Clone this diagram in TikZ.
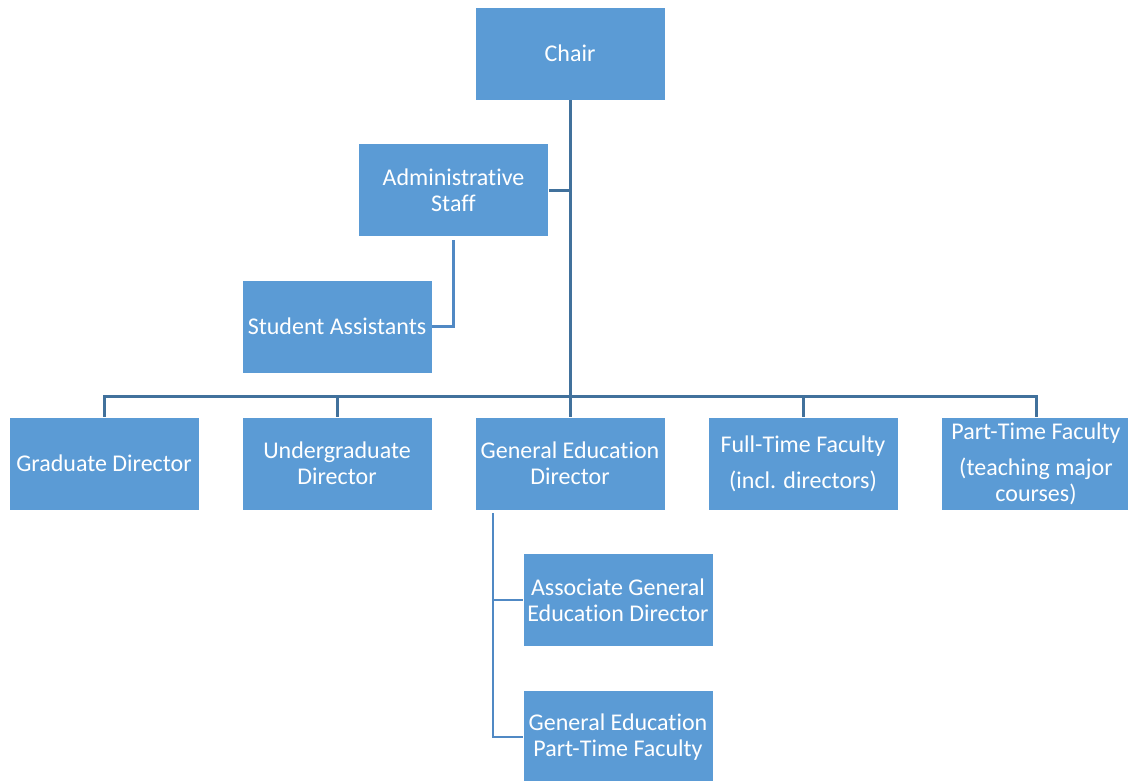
\documentclass[tikz,border=0pt]{standalone}
\usepackage{fontspec}
\setmainfont{Carlito}[Ligatures={NoCommon}]
\definecolor{boxfill}{HTML}{5B9BD5}
\definecolor{mainline}{HTML}{41719C}
\definecolor{subline}{HTML}{5089C4}
\begin{document}
\begin{tikzpicture}[x=1pt,y=-1pt,
  orgbox/.style={fill=boxfill,draw=white,line width=0.6pt,minimum width=190pt,minimum height=93pt,inner sep=0pt,
    align=center,text=white,font=\fontsize{24}{26}\selectfont},
  mainconn/.style={draw=mainline,line width=3pt},
  subconn/.style={draw=subline,line width=2.6pt}]
\path[use as bounding box,clip] (0,0) rectangle (1128,780);
\fill[white] (0,0) rectangle (1128,780);
\node[orgbox] (chair) at (570,53.5) {Chair};
\node[orgbox] (admin) at (453.5,190) {Administrative\\Staff};
\node[orgbox] (student) at (337,326.5) {Student Assistants};
\node[orgbox] (grad) at (104,463.5) {Graduate Director};
\node[orgbox] (ug) at (337,463.5) {Undergraduate\\Director};
\node[orgbox] (gened) at (570,463.5) {General Education\\Director};
\node[orgbox] (ft) at (803,463.5) {Full-Time Faculty\\[10pt](incl. directors)};
\node[orgbox] (pt) at (1036,463.5) {Part-Time Faculty\\[10pt](teaching major\\courses)};
\node[orgbox] (assoc) at (618,600) {Associate General\\Education Director};
\node[orgbox] (gept) at (618,737) {General Education\\Part-Time Faculty};
\coordinate (busL) at (104,396);
\coordinate (gtop) at (493,513);
\coordinate (stop) at (453.5,240);
% main hierarchy
\draw[mainconn] (chair.south) -- (chair.south |- busL);
\draw[mainconn] (grad.north) -- (grad.north |- busL) -- (pt.north |- busL) -- (pt.north);
\draw[mainconn] (ug.north) -- (ug.north |- busL);
\draw[mainconn] (gened.north) -- (gened.north |- busL);
\draw[mainconn] (ft.north) -- (ft.north |- busL);
\draw[mainconn] (admin.east) -- (admin.east -| chair.south);
% assistants
\draw[subconn] (stop) -- (stop |- student.east) -- (student.east);
% gen ed sub
\draw[subconn] (gtop) -- (gtop |- gept.west) -- (gept.west);
\draw[subconn] (gtop |- assoc.west) -- (assoc.west);
\end{tikzpicture}
\end{document}
